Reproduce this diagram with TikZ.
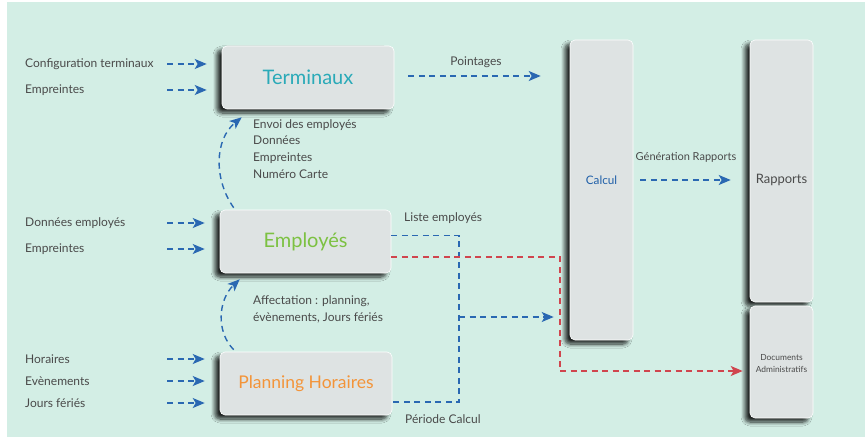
\documentclass[tikz,border=0pt]{standalone}
\usepackage{fontspec}
\setmainfont{Lato}
\usetikzlibrary{arrows.meta,shadows.blur,calc}
\definecolor{bgmint}{HTML}{D3EEE5}
\definecolor{boxfill}{HTML}{DEE3E3}
\definecolor{shd}{HTML}{3E4A58}
\definecolor{txt}{HTML}{4A4A4A}
\definecolor{lblue}{HTML}{2A68B2}
\definecolor{ared}{HTML}{D0454E}
\definecolor{cteal}{HTML}{2AAAB8}
\definecolor{cgreen}{HTML}{7CC142}
\definecolor{corange}{HTML}{F39439}
\definecolor{cblue}{HTML}{1F5FA8}
\tikzset{
  box/.style={draw=white, line width=0.6pt, fill=boxfill, rounded corners=5pt,
    blur shadow={shadow xshift=-5pt, shadow yshift=-4pt, shadow blur radius=4pt, shadow blur steps=8, shadow opacity=85},
    inner sep=0pt},
  lbl/.style={text=txt, font=\fontsize{12}{14}\selectfont, inner sep=0pt, anchor=west},
  bl/.style={draw=lblue, line width=1.4pt, dash pattern=on 6pt off 4.5pt},
  rd/.style={draw=ared, line width=1.4pt, dash pattern=on 6pt off 4.5pt},
  ba/.style={bl, -{Stealth[length=12pt,width=10pt,inset=3pt]}},
  ra/.style={rd, -{Stealth[length=12pt,width=10pt,inset=3pt]}},
}
\begin{document}
\begin{tikzpicture}[x=1pt,y=-1pt]
\useasboundingbox (0,0) rectangle (865,441);
\fill[white] (0,0) rectangle (865,441);
\fill[bgmint] (7,2) rectangle (865,437);

% boxes
\node[box, minimum width=172pt, minimum height=63pt] (ter) at (308,77.5) {};
\node[text=cteal, font=\fontsize{20}{22}\selectfont] at (ter.center) {Terminaux};
\node[box, minimum width=171pt, minimum height=63pt] (emp) at (305.5,241.5) {};
\node[text=cgreen, font=\fontsize{20}{22}\selectfont] at (emp.center) {Employés};
\node[box, minimum width=172pt, minimum height=63pt] (plan) at (306,383.5) {};
\node[text=corange, font=\fontsize{17.5}{22}\selectfont] at (plan.center) {Planning Horaires};
\node[box, minimum width=63pt, minimum height=300pt] (calc) at (601.5,190) {};
\node[text=cblue, font=\fontsize{11.7}{13}\selectfont] at (601.5,180) {Calcul};
\node[box, minimum width=63pt, minimum height=262pt] (rap) at (781.5,171) {};
\node[text=txt, font=\fontsize{13}{15}\selectfont] at (781.5,180) {Rapports};
\node[box, minimum width=63pt, minimum height=112pt] (doc) at (781.5,362) {};
\node[text=txt, font=\fontsize{8.4}{12}\selectfont, align=center] at (781.5,364) {Documents\\Administratifs};

% left labels and arrows
\node[lbl] (l1) at (25,64) {Configuration terminaux};
\node[lbl] (l2) at (25,90) {Empreintes};
\node[lbl] (l3) at (25,223) {Données employés};
\node[lbl] (l4) at (25,249) {Empreintes};
\node[lbl] (l5) at (25,359) {Horaires};
\node[lbl] (l6) at (25,381) {Evènements};
\node[lbl] (l7) at (25,403) {Jours fériés};
\foreach \n/\y/\t in {l1/64/ter, l2/90/ter, l3/223/emp, l4/249/emp, l5/359/plan, l6/381/plan, l7/403/plan}{
  \coordinate (s\n) at (167,\y);
  \draw[ba] (s\n) -- ($(s\n -| \t.west)+(-15,0)$);
}

% Pointages
\node[lbl, anchor=center] (pt) at (476,62) {Pointages};
\draw[ba] ($(ter.east)+(14,-1.5)$) -- ($(calc.west|-ter.east)+(-29,-1.5)$);

% text under Terminaux
\node[lbl, anchor=north west, align=left, font=\fontsize{12}{16.8}\selectfont] (env) at (253,119) {Envoi des employés\\Données\\Empreintes\\Numéro Carte};
\draw[ba] ($(emp.north west)+(14,-2)$) .. controls (214,180) and (214,140) .. ($(ter.south west)+(20,8)$);

% Affectation
\node[lbl, anchor=north west, align=left, font=\fontsize{12}{17.5}\selectfont] (aff) at (253,295) {Affectation : planning,\\évènements, Jours fériés};
\draw[ba] ($(plan.north west)+(14,-2)$) .. controls (216,332) and (218,300) .. ($(emp.south west)+(20,6)$);

% Liste employes / Periode calcul
\node[lbl] (le) at (404,218) {Liste employés};
\node[lbl] (pc) at (405,419) {Période Calcul};
\coordinate (jb) at (459,402);
\coordinate (jm) at (459,317);
\draw[bl] ([yshift=6pt]emp.east) -| (jb) -- (jb -| plan.east);
\draw[ba] (jm) -- ($(calc.west|-jm)+(-16,0)$);

% red
\coordinate (rc) at (560,371);
\draw[rd] ([yshift=-15.5pt]emp.east) -| (rc);
\draw[ra] (rc) -- ($(doc.west|-rc)+(-7,0)$);

% Generation rapports
\node[text=txt, font=\fontsize{11}{13}\selectfont] (gr) at (686,157) {Génération Rapports};
\draw[ba] ($(calc.east|-0,180)+(7,0)$) -- ($(rap.west|-0,180)+(-19,0)$);
\end{tikzpicture}
\end{document}
